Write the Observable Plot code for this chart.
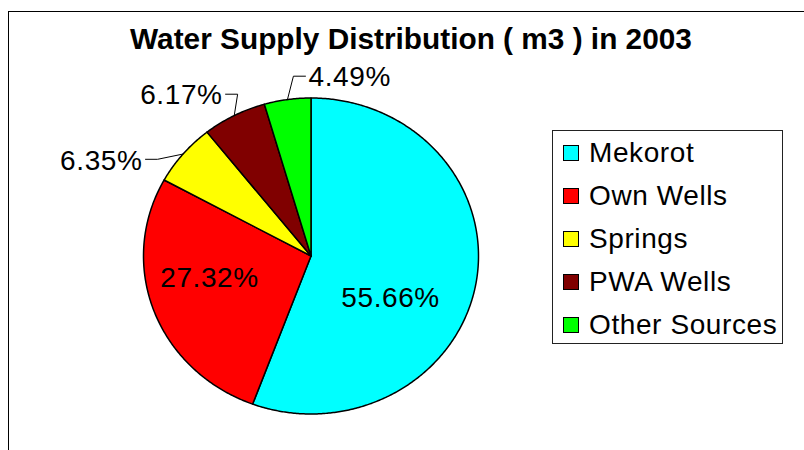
<!DOCTYPE html>
<html>
<head>
<meta charset="utf-8">
<script src="https://cdn.jsdelivr.net/npm/d3@7"></script>
<script src="https://cdn.jsdelivr.net/npm/@observablehq/plot@0.6"></script>
<style>
  html, body { margin: 0; padding: 0; background: #fff; overflow: hidden; }
  #wrap { position: relative; width: 804px; height: 450px; font-family: "Liberation Sans", Arial, sans-serif; }
  #frame { position: absolute; left: 8px; top: 11px; width: 900px; height: 500px; border-left: 1.5px solid #000; border-top: 1.5px solid #000; }
  #title { position: absolute; left: 0; width: 822px; top: 24px; text-align: center; font-weight: bold; font-size: 29.8px; line-height: 29px; color: #000; }
  #plot { position: absolute; left: 0; top: 0; }
  #plot svg text { letter-spacing: 0.6px; }
  #legend { position: absolute; left: 552px; top: 130px; width: 231px; height: 214px; border: 1.5px solid #222; box-sizing: border-box; background: #fff; }
  .row { position: absolute; left: 10px; height: 30px; display: flex; align-items: center; font-size: 28px; letter-spacing: 0.6px; color: #000; white-space: nowrap; }
  .sw { width: 14px; height: 14px; border: 1.5px solid #000; margin-right: 10px; box-sizing: content-box; }
</style>
</head>
<body>
<div id="wrap">
  <div id="frame"></div>
  <div id="plot"></div>
  <div id="title">Water Supply Distribution ( m3 ) in 2003</div>
  <div id="legend"></div>
</div>
<script>
// ---- data ----
const categories = ["Mekorot", "Own Wells", "Springs", "PWA Wells", "Other Sources"];
const shares = [55.66, 27.32, 6.35, 6.17, 4.49];
const colors = ["#00FFFF", "#FF0000", "#FFFF00", "#800000", "#00FF00"];

// label layout (unit-circle coordinates, y up), like Excel's stored label positions
const labelAnchor = ["middle", "middle", "end", "end", "start"];
const labelX = [0.475, -0.606, -1.006, -0.528, -0.015];
const labelY = [-0.269, -0.142, 0.604, 1.016, 1.130];
const hasLeader = [false, false, true, true, true];

// ---- geometry from data ----
const total = d3.sum(shares);
const slices = [];
let acc = 0;
categories.forEach((name, i) => {
  const a0 = acc / total * 2 * Math.PI;
  acc += shares[i];
  const a1 = acc / total * 2 * Math.PI;
  slices.push({name, value: shares[i], a0, a1, mid: (a0 + a1) / 2, i});
});

const piePts = [];
for (const s of slices) {
  piePts.push({name: s.name, x: 0, y: 0});
  const n = Math.max(2, Math.ceil((s.a1 - s.a0) / (Math.PI / 360)));
  for (let k = 0; k <= n; k++) {
    const a = s.a0 + (s.a1 - s.a0) * k / n;
    piePts.push({name: s.name, x: Math.sin(a), y: Math.cos(a)});
  }
  piePts.push({name: s.name, x: 0, y: 0});
}

const labels = slices.map(s => ({
  name: s.name,
  text: s.value.toFixed(2) + "%",
  x: labelX[s.i], y: labelY[s.i], anchor: labelAnchor[s.i]
}));

const leaderPts = [];
for (const s of slices) {
  if (!hasLeader[s.i]) continue;
  const dir = labelAnchor[s.i] === "end" ? 1 : -1;
  const lx = labelX[s.i], ly = labelY[s.i];
  leaderPts.push({name: s.name, x: lx + dir * 0.018, y: ly + 0.008});
  leaderPts.push({name: s.name, x: lx + dir * 0.09, y: ly + 0.008});
  leaderPts.push({name: s.name, x: Math.sin(s.mid), y: Math.cos(s.mid)});
}

const textStyle = {fontSize: 28, fill: "#000", fontFamily: "Liberation Sans, Arial, sans-serif"};

const plot = Plot.plot({
  width: 804,
  height: 450,
  margin: 0,
  style: {background: "transparent", overflow: "visible"},
  x: {domain: [-1, 1], range: [143, 478], axis: null},
  y: {domain: [-1, 1], range: [413.5, 97.5], axis: null},
  color: {domain: categories, range: colors},
  marks: [
    Plot.line(piePts, {x: "x", y: "y", z: "name", fill: "name", stroke: "#000", strokeWidth: 1.5, strokeLinejoin: "round", curve: "linear"}),
    Plot.line(leaderPts, {x: "x", y: "y", z: "name", stroke: "#000", strokeWidth: 1}),
    Plot.text(labels.filter(d => d.anchor === "middle"), {x: "x", y: "y", text: "text", textAnchor: "middle", ...textStyle}),
    Plot.text(labels.filter(d => d.anchor === "end"), {x: "x", y: "y", text: "text", textAnchor: "end", ...textStyle}),
    Plot.text(labels.filter(d => d.anchor === "start"), {x: "x", y: "y", text: "text", textAnchor: "start", ...textStyle})
  ]
});
document.getElementById("plot").appendChild(plot);

// legend from the plot's color scale
const cs = plot.scale("color");
const legend = document.getElementById("legend");
cs.domain.forEach((name, i) => {
  const row = document.createElement("div");
  row.className = "row";
  row.style.top = (7 + i * 43) + "px";
  const sw = document.createElement("div");
  sw.className = "sw";
  sw.style.background = cs.range[i];
  const t = document.createElement("span");
  t.textContent = name;
  row.appendChild(sw);
  row.appendChild(t);
  legend.appendChild(row);
});
</script>
</body>
</html>
